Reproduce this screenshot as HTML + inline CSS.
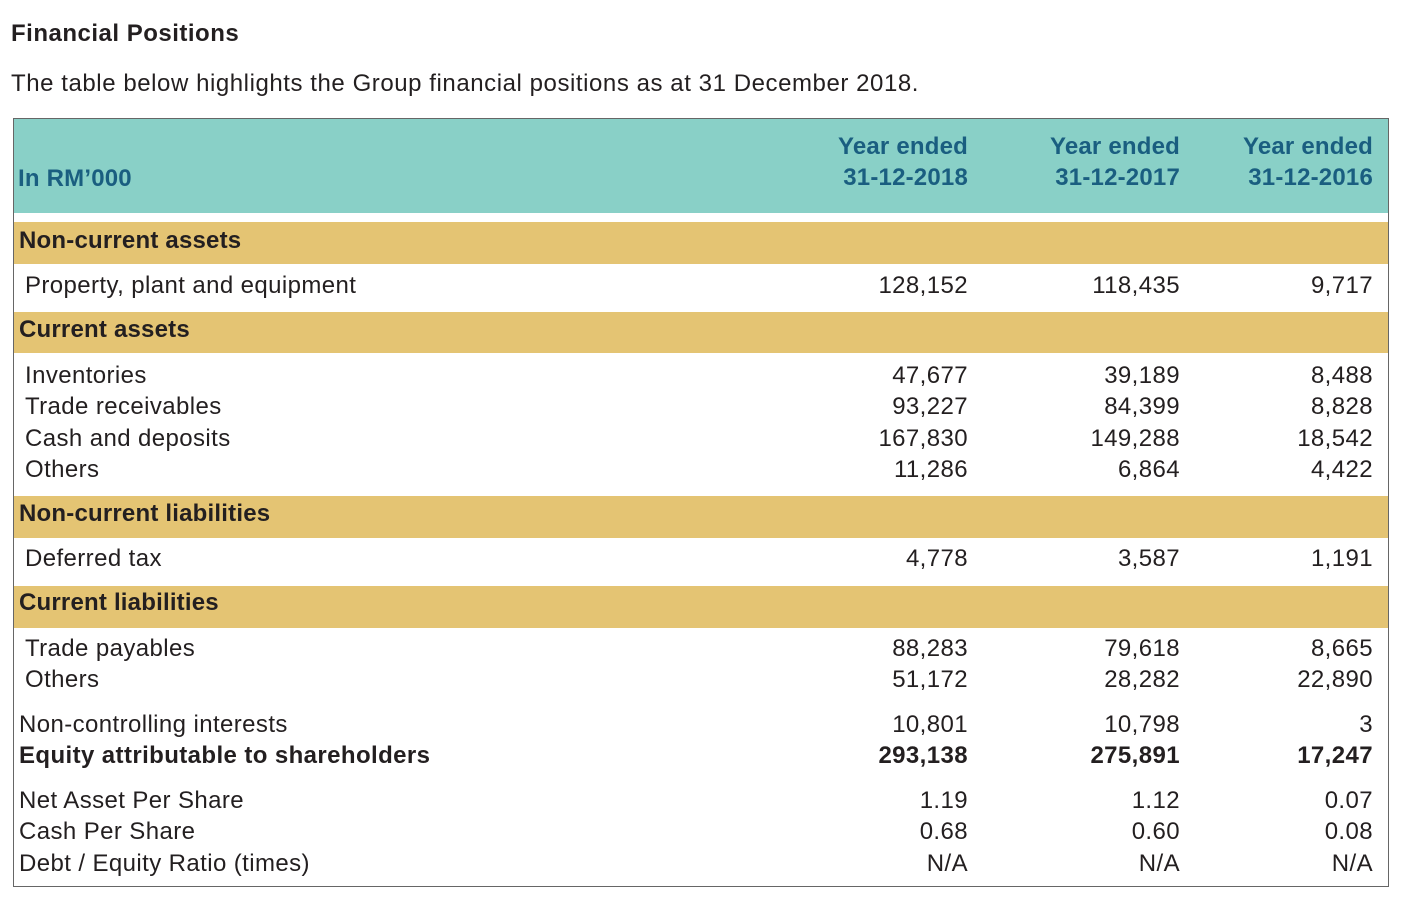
<!DOCTYPE html>
<html><head><style>
body{margin:0;width:1413px;height:908px;background:#fff;font-family:"Liberation Sans",sans-serif;color:#231f20;position:relative;overflow:hidden}
.t{position:absolute;line-height:26px;font-size:24px;letter-spacing:0.4px;white-space:nowrap}
.m{line-height:31.3px}
.r{text-align:right;width:250px}
.b{font-weight:bold;letter-spacing:0.2px}
.h{color:#1a5e80;font-weight:bold;letter-spacing:0.2px}
.band{position:absolute;left:14px;width:1374px;background:#e4c473}
</style></head><body>
<div class="t b" style="left:11px;top:21px;letter-spacing:0.5px">Financial Positions</div>
<div class="t" style="left:11px;top:71px;letter-spacing:0.56px">The table below highlights the Group financial positions as at 31 December 2018.</div>
<div style="position:absolute;left:13px;top:118px;width:1374px;height:767px;border:1px solid #666"></div>
<div style="position:absolute;left:14px;top:119px;width:1374px;height:94px;background:#89d0c7"></div>
<div class="band" style="top:222px;height:42px"></div>
<div class="band" style="top:312px;height:41px"></div>
<div class="band" style="top:496px;height:42px"></div>
<div class="band" style="top:586px;height:42px"></div>

<div class="t h" style="left:18px;top:166px">In RM’000</div>
<div class="t h r" style="left:718px;top:134px">Year ended</div>
<div class="t h r" style="left:718px;top:165px">31-12-2018</div>
<div class="t h r" style="left:930px;top:134px">Year ended</div>
<div class="t h r" style="left:930px;top:165px">31-12-2017</div>
<div class="t h r" style="left:1123px;top:134px">Year ended</div>
<div class="t h r" style="left:1123px;top:165px">31-12-2016</div>

<div class="t b" style="left:19px;top:228px">Non-current assets</div>
<div class="t b" style="left:19px;top:317px">Current assets</div>
<div class="t b" style="left:19px;top:501px">Non-current liabilities</div>
<div class="t b" style="left:19px;top:590px">Current liabilities</div>

<div class="t" style="left:25px;top:273px">Property, plant and equipment</div>
<div class="t m" style="left:25px;top:360px">Inventories<br>Trade receivables<br>Cash and deposits<br>Others</div>
<div class="t" style="left:25px;top:546px">Deferred tax</div>
<div class="t m" style="left:25px;top:633px">Trade payables<br>Others</div>
<div class="t m" style="left:19px;top:709px">Non-controlling interests<br><b>Equity attributable to shareholders</b></div>
<div class="t m" style="left:19px;top:785px">Net Asset Per Share<br>Cash Per Share<br>Debt / Equity Ratio (times)</div>

<div class="t r" style="left:718px;top:273px">128,152</div>
<div class="t r" style="left:930px;top:273px">118,435</div>
<div class="t r" style="left:1123px;top:273px">9,717</div>

<div class="t r m" style="left:718px;top:360px">47,677<br>93,227<br>167,830<br>11,286</div>
<div class="t r m" style="left:930px;top:360px">39,189<br>84,399<br>149,288<br>6,864</div>
<div class="t r m" style="left:1123px;top:360px">8,488<br>8,828<br>18,542<br>4,422</div>

<div class="t r" style="left:718px;top:546px">4,778</div>
<div class="t r" style="left:930px;top:546px">3,587</div>
<div class="t r" style="left:1123px;top:546px">1,191</div>

<div class="t r m" style="left:718px;top:633px">88,283<br>51,172</div>
<div class="t r m" style="left:930px;top:633px">79,618<br>28,282</div>
<div class="t r m" style="left:1123px;top:633px">8,665<br>22,890</div>

<div class="t r m" style="left:718px;top:709px">10,801<br><b>293,138</b></div>
<div class="t r m" style="left:930px;top:709px">10,798<br><b>275,891</b></div>
<div class="t r m" style="left:1123px;top:709px">3<br><b>17,247</b></div>

<div class="t r m" style="left:718px;top:785px">1.19<br>0.68<br>N/A</div>
<div class="t r m" style="left:930px;top:785px">1.12<br>0.60<br>N/A</div>
<div class="t r m" style="left:1123px;top:785px">0.07<br>0.08<br>N/A</div>
</body></html>
